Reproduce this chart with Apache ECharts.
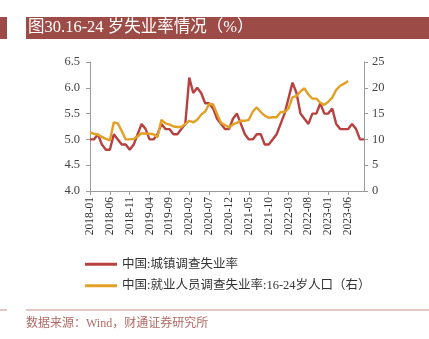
<!DOCTYPE html>
<html>
<head>
<meta charset="utf-8">
<script src="https://cdn.jsdelivr.net/npm/echarts@6/dist/echarts.min.js"></script>
<style>
  html, body { margin: 0; padding: 0; background: #fff; }
  #chart { width: 429px; height: 339px; }
</style>
</head>
<body>
<div id="chart"></div>
<script>
// Monthly categories 2018-01 .. 2023-10
const months = [];
for (let y = 2018; y <= 2023; y++) {
  for (let m = 1; m <= 12; m++) {
    if (y === 2023 && m > 10) break;
    months.push(y + '-' + (m < 10 ? '0' + m : m));
  }
}

// 城镇调查失业率 (%), left axis
const urbanRate = [
  5.0, 5.0, 5.1, 4.9, 4.8, 4.8, 5.1, 5.0, 4.9, 4.9, 4.8, 4.9,
  5.1, 5.3, 5.2, 5.0, 5.0, 5.1, 5.3, 5.2, 5.2, 5.1, 5.1, 5.2,
  5.3, 6.2, 5.9, 6.0, 5.9, 5.7, 5.7, 5.6, 5.4, 5.3, 5.2, 5.2,
  5.4, 5.5, 5.3, 5.1, 5.0, 5.0, 5.1, 5.1, 4.9, 4.9, 5.0, 5.1,
  5.3, 5.5, 5.8, 6.1, 5.9, 5.5, 5.4, 5.3, 5.5, 5.5, 5.7, 5.5,
  5.5, 5.6, 5.3, 5.2, 5.2, 5.2, 5.3, 5.2, 5.0, 5.0
];

// 16-24岁人口调查失业率 (%), right axis (published through 2023-06)
const youthRate = [
  11.3, 11.1, 10.9, 10.5, 10.1, 9.8, 13.3, 13.1, 11.6, 10.0, 10.0, 10.1,
  10.6, 11.2, 11.1, 11.1, 11.0, 10.4, 13.8, 13.1, 12.9, 12.5, 12.4, 12.4,
  13.0, 13.6, 13.3, 13.8, 14.8, 15.4, 16.8, 16.8, 14.9, 13.2, 12.8, 12.3,
  12.9, 13.2, 13.6, 13.6, 13.8, 15.4, 16.2, 15.3, 14.6, 14.2, 14.3, 14.3,
  15.3, 15.3, 16.0, 18.2, 18.4, 19.3, 19.9, 18.7, 17.9, 17.9, 17.1, 16.7,
  17.3, 18.1, 19.6, 20.4, 20.8, 21.3
];

const leftTicks = { min: 4.0, max: 6.5, interval: 0.5 };
const rightTicks = { min: 0, max: 25, interval: 5 };

const seriesNames = ['中国:城镇调查失业率', '中国:就业人员调查失业率:16-24岁人口（右）'];
const titleText = '图30.16-24 岁失业率情况（%）';
const sourceText = '数据来源：Wind，财通证券研究所';

const RED = '#b8413f';
const GOLD = '#e2a024';
const BAR = '#9d4b47';
const FONT = '"Liberation Serif", "Noto Sans CJK SC", serif';
const axisGray = '#9a9a9a';

const chart = echarts.init(document.getElementById('chart'), null, { renderer: 'canvas' });
chart.setOption({
  animation: false,
  backgroundColor: '#fff',
  textStyle: { fontFamily: FONT },
  grid: { left: 90, right: 65, top: 62, bottom: 148, containLabel: false },
  legend: {
    orient: 'vertical',
    left: 80,
    top: 253,
    itemWidth: 32,
    itemHeight: 3,
    itemGap: 9,
    icon: 'rect',
    textStyle: { fontFamily: FONT, fontSize: 12.5, color: '#333' },
    data: seriesNames
  },
  xAxis: {
    type: 'category',
    data: months,
    boundaryGap: false,
    axisLine: { lineStyle: { color: axisGray, width: 1 } },
    axisTick: { interval: 4, length: 4, lineStyle: { color: axisGray } },
    axisLabel: {
      interval: 4, rotate: 90, margin: 6,
      fontFamily: FONT, fontSize: 11.5, color: '#333'
    },
    splitLine: { show: false }
  },
  yAxis: [
    {
      type: 'value',
      min: leftTicks.min, max: leftTicks.max, interval: leftTicks.interval,
      axisLine: { show: true, lineStyle: { color: axisGray } },
      axisTick: { show: true, length: 4, lineStyle: { color: axisGray } },
      axisLabel: {
        margin: 10, fontFamily: FONT, fontSize: 12.5, color: '#444',
        formatter: v => v.toFixed(1)
      },
      splitLine: { show: false }
    },
    {
      type: 'value',
      min: rightTicks.min, max: rightTicks.max, interval: rightTicks.interval,
      position: 'right',
      axisLine: { show: true, lineStyle: { color: axisGray } },
      axisTick: { show: true, length: 4, lineStyle: { color: axisGray } },
      axisLabel: { margin: 8, fontFamily: FONT, fontSize: 12.5, color: '#444' },
      splitLine: { show: false }
    }
  ],
  series: [
    {
      name: seriesNames[0], type: 'line', yAxisIndex: 0,
      data: urbanRate, showSymbol: false, symbol: 'none',
      lineStyle: { color: RED, width: 2.4 }, itemStyle: { color: RED }
    },
    {
      name: seriesNames[1], type: 'line', yAxisIndex: 1,
      data: youthRate, showSymbol: false, symbol: 'none',
      lineStyle: { color: GOLD, width: 2.4 }, itemStyle: { color: GOLD }
    }
  ],
  graphic: [
    { type: 'rect', shape: { x: 0, y: 17, width: 7, height: 22 }, style: { fill: BAR } },
    { type: 'rect', shape: { x: 26, y: 17, width: 403, height: 22 }, style: { fill: BAR } },
    {
      type: 'text', x: 28, y: 28,
      style: {
        text: titleText, fill: '#fff', fontSize: 16.5, fontFamily: FONT,
        verticalAlign: 'middle'
      }
    },
    { type: 'rect', shape: { x: 0, y: 309.5, width: 7, height: 1 }, style: { fill: '#c98d8a' } },
    { type: 'rect', shape: { x: 26, y: 309.5, width: 403, height: 1 }, style: { fill: '#c98d8a' } },
    {
      type: 'text', x: 26, y: 324,
      style: {
        text: sourceText, fill: '#b26a66', fontSize: 12, fontFamily: FONT,
        verticalAlign: 'middle'
      }
    }
  ]
});
</script>
</body>
</html>
